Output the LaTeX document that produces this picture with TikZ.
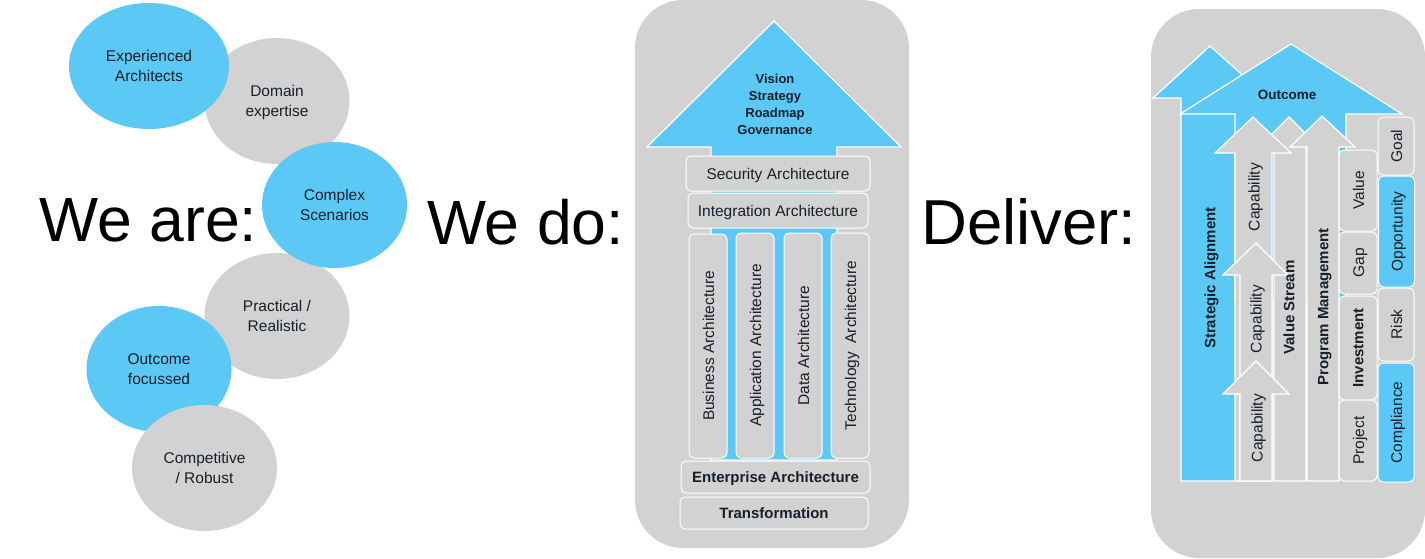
\documentclass[tikz,border=0pt]{standalone}
\usepackage{fontspec}
\setmainfont{Liberation Sans}
\usetikzlibrary{shapes.geometric}
\definecolor{skyfill}{HTML}{5CC8F5}
\definecolor{panelgray}{HTML}{D2D2D2}
\definecolor{inktext}{HTML}{16202A}
\tikzset{
	bubble/.style={ellipse,minimum width=145pt,minimum height=126pt,inner sep=0pt,fill=panelgray,align=center,font=\fontsize{15.5}{19.5}\selectfont,text=inktext,text depth=-2pt},
	bluebubble/.style={bubble,fill=skyfill},
	heading/.style={font=\fontsize{62.5}{70}\selectfont,text=black},
	panel/.style={fill=panelgray,rounded corners=48pt},
	headarrow/.style={draw=white,line width=1.2pt,fill=skyfill},
	grayarrow/.style={draw=white,line width=1.2pt,fill=panelgray},
	archbox/.style={draw=white,line width=1pt,fill=panelgray,rounded corners=5pt,inner sep=0pt,font=\fontsize{15.5}{18}\selectfont,text=inktext,text height=12pt,text depth=0pt},
	tilebox/.style={archbox,rotate=90},
	labelbold/.style={font=\fontsize{15}{18}\selectfont\bfseries,text=inktext,text height=10.5pt,text depth=0pt},
	headbold/.style={font=\fontsize{13}{17}\selectfont\bfseries,text=inktext,align=center},
	caplabel/.style={rotate=90,font=\fontsize{15.5}{18}\selectfont,text=inktext,text height=11pt,text depth=0pt}
}
\begin{document}
\begin{tikzpicture}[x=1pt,y=-1pt]
	\useasboundingbox (0,0) rectangle (1425,558);
	
	% We are
	\node [heading] (weare) at (148.5,220) {We are:};
	\node [bubble] (domain) at (277,101) {Domain\\expertise};
	\node [bluebubble,minimum width=160pt] (experienced) at (149,66) {Experienced\\Architects};
	\node [bubble] (practical) at (277,316) {Practical /\\Realistic};
	\node [bluebubble] (complex) at (334.5,205) {Complex\\Scenarios};
	\node [bluebubble] (outcomefoc) at (159,369) {Outcome\\focussed};
	\node [bubble] (competitive) at (204.5,468) {Competitive\\/ Robust};
	
	% We do
	\node [heading] (wedo) at (525.5,222) {We do:};
	\fill [panel] (635,0) rectangle (909,548);
	\draw [headarrow] (774,21) -- (901,147) -- (837,147) -- (837,460) -- (711,460) -- (711,147) -- (647,147) -- cycle;
	\node [headbold] (vision) at (775,104.5) {Vision\\Strategy\\Roadmap\\Governance};
	\node [archbox,minimum width=184pt,minimum height=35pt] (security) at (778,173.5) {Security Architecture};
	\node [archbox,minimum width=180pt,minimum height=35pt] (integration) at (778,210.5) {Integration Architecture};
	\node [tilebox,minimum width=224pt,minimum height=38pt] (business) at (708,346) {Business Architecture};
	\node [tilebox,minimum width=225pt,minimum height=38pt] (application) at (755,345.5) {Application Architecture};
	\node [tilebox,minimum width=225pt,minimum height=38pt] (data) at (803,345.5) {Data Architecture};
	\node [tilebox,minimum width=225pt,minimum height=38pt] (technology) at (850,345.5) {Technology\ \ Architecture};
	\node [archbox,minimum width=189pt,minimum height=32pt,labelbold] (enterprise) at (775.5,477) {Enterprise Architecture};
	\node [archbox,minimum width=188pt,minimum height=32pt,labelbold] (transformation) at (774,513) {Transformation};
	
	% Deliver
	\node [heading,font=\fontsize{63.5}{70}\selectfont] (deliver) at (1029,222) {Deliver:};
	\fill [panel] (1151,9) rectangle (1425,558);
	\draw [headarrow] (1210,46) -- (1268,98) -- (1238,98) -- (1238,481) -- (1181,481) -- (1181,98) -- (1153,98) -- cycle;
	\draw [headarrow] (1291,44) -- (1402,114) -- (1346,114) -- (1346,300) -- (1235,300) -- (1235,114) -- (1180,114) -- cycle;
	\node [headbold,font=\fontsize{13.5}{17}\selectfont\bfseries] (outcome) at (1287,95) {Outcome};
	\node [labelbold,rotate=90] (strategic) at (1210,278) {Strategic Alignment};
	
	% Arrows
	\draw [grayarrow] (1289,117) -- (1320,148) -- (1306,148) -- (1306,481) -- (1274,481) -- (1274,148) -- (1258,148) -- cycle;
	\draw [grayarrow] (1253,117) -- (1291,153) -- (1272,153) -- (1272,481) -- (1235,481) -- (1235,153) -- (1215,153) -- cycle;
	\draw [grayarrow] (1256,243) -- (1288,275) -- (1272,275) -- (1272,481) -- (1240,481) -- (1240,275) -- (1223,275) -- cycle;
	\draw [grayarrow] (1256,361) -- (1289,394) -- (1272,394) -- (1272,481) -- (1240,481) -- (1240,394) -- (1223,394) -- cycle;
	\draw [grayarrow] (1322,116) -- (1355,147) -- (1339,147) -- (1339,481) -- (1307,481) -- (1307,147) -- (1290,147) -- cycle;
	\node [caplabel] (capa) at (1254,197) {Capability};
	\node [caplabel] (capb) at (1256,319) {Capability};
	\node [caplabel] (capc) at (1257,428) {Capability};
	\node [labelbold,rotate=90] (valuestream) at (1289,307.5) {Value Stream};
	\node [labelbold,rotate=90] (program) at (1323,307) {Program Management};
	
	% Tiles
	\node [tilebox,minimum width=81pt,minimum height=38pt] (value) at (1358,190.5) {Value};
	\node [tilebox,minimum width=62pt,minimum height=38pt] (gap) at (1358,263) {Gap};
	\node [tilebox,minimum width=104pt,minimum height=38pt,labelbold] (investment) at (1358,348) {Investment};
	\node [tilebox,minimum width=81pt,minimum height=38pt] (project) at (1358,440.5) {Project};
	\node [tilebox,minimum width=58pt,minimum height=36pt] (goal) at (1396,146) {Goal};
	\node [tilebox,fill=skyfill,minimum width=111pt,minimum height=36pt] (opportunity) at (1396.5,231.5) {Opportunity};
	\node [tilebox,minimum width=73pt,minimum height=36pt] (risk) at (1396,324.5) {Risk};
	\node [tilebox,fill=skyfill,minimum width=119pt,minimum height=36pt] (compliance) at (1396,422.5) {Compliance};
	
\end{tikzpicture}
\end{document}
